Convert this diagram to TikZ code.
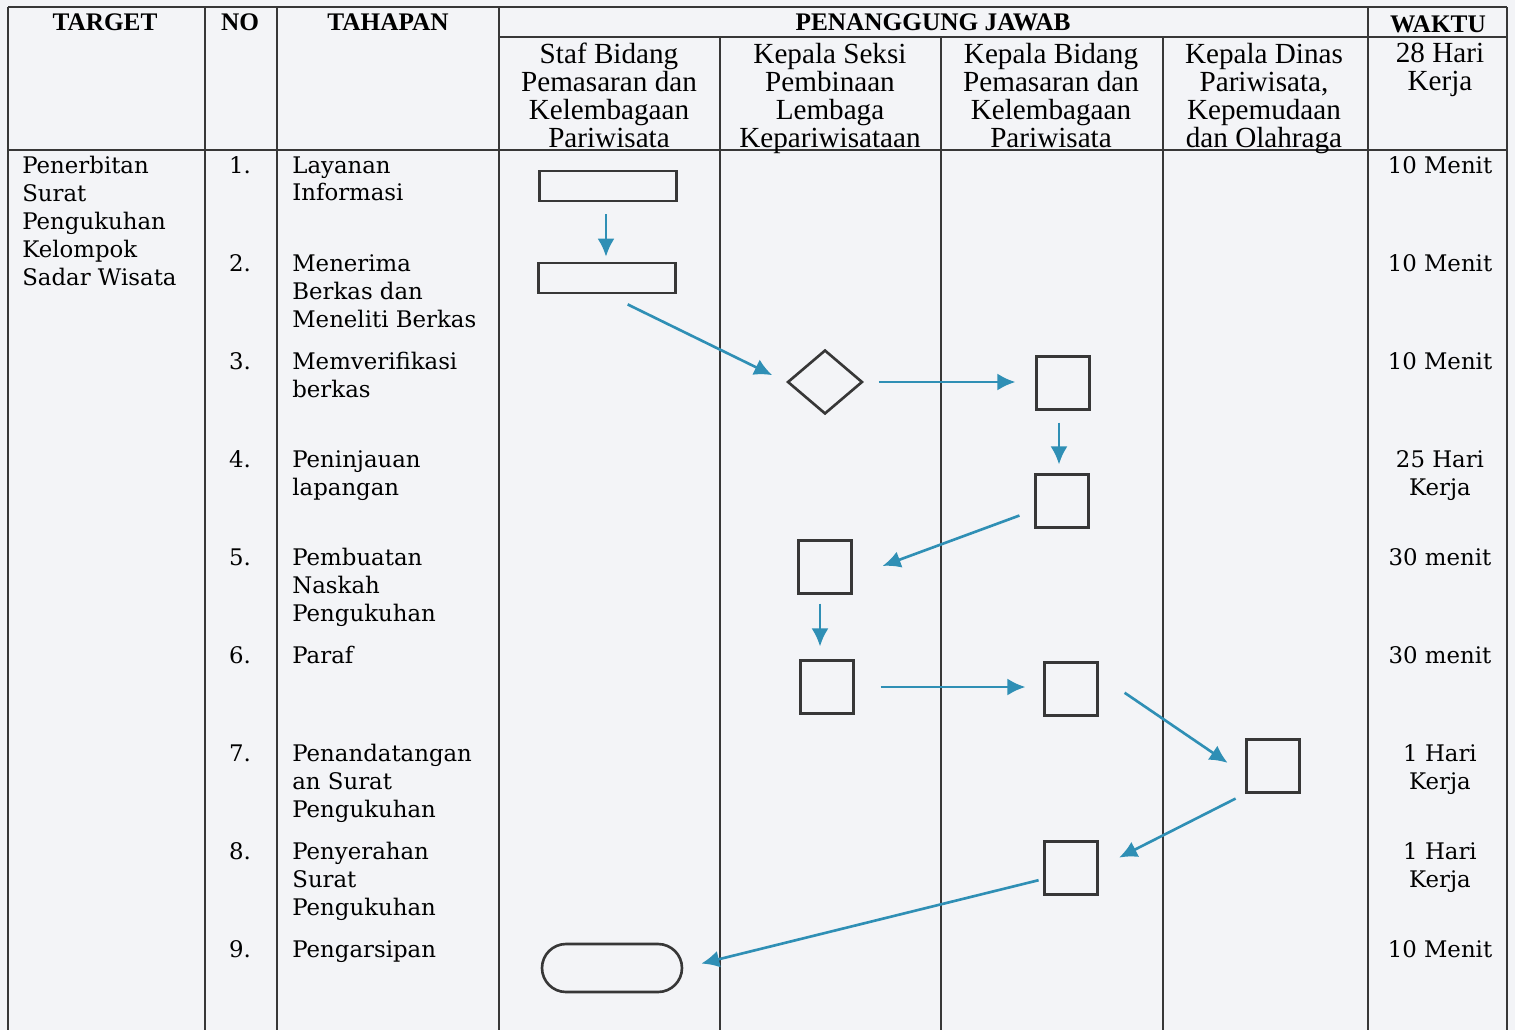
\documentclass[tikz,border=0pt]{standalone}
\usepackage{fontspec}
\setmainfont{DejaVu Serif}
\newfontfamily\headfont{Liberation Serif}
\usetikzlibrary{shapes.geometric, arrows.meta}

\definecolor{paper}{RGB}{243,244,247}
\definecolor{rule}{RGB}{55,55,55}
\definecolor{flowblue}{RGB}{47,143,181}

\begin{document}
\begin{tikzpicture}[x=0.02cm, y=-0.02cm,
    grid/.style={draw=rule, line width=0.9pt},
    box/.style={draw=rule, line width=1.5pt, rectangle, inner sep=0pt},
    proc/.style={box, minimum width=2.74cm, minimum height=0.6cm},
    sq/.style={box, minimum size=1.05cm},
    dec/.style={draw=rule, line width=1.5pt, diamond, inner sep=0pt, minimum width=1.5cm, minimum height=1.28cm},
    term/.style={box, rounded corners=0.48cm, minimum width=2.8cm, minimum height=0.96cm},
    flow/.style={-{Latex[length=3.6mm,width=3.4mm]}, draw=flowblue, line width=1.5pt},
    head/.style={font=\headfont\bfseries\fontsize{14.4}{16}\selectfont, inner sep=0pt},
    sub/.style={font=\headfont\fontsize{16.6}{15.9}\selectfont, align=center, anchor=north, inner sep=0pt},
    txt/.style={font=\fontsize{13}{15.9}\selectfont, align=left, anchor=north west, inner sep=0pt},
    num/.style={font=\fontsize{13}{15.9}\selectfont, anchor=north, inner sep=0pt},
    dur/.style={font=\fontsize{13}{15.9}\selectfont, align=center, anchor=north, inner sep=0pt}]
    %--------------------%
    % Parameters
    %--------------------%
    \def\rowsep{98}
    \def\rowtop{156}
    \def\xno{240}
    \def\xstep{292}
    \def\xtime{1440}

    % paper
    \fill[paper] (0,0) rectangle (1515,1030);

    %--------------------%
    % Table Rules
    %--------------------%
    \draw[grid] (8,7) -- (1507,7);
    \draw[grid] (499,37) -- (1507,37);
    \draw[grid] (8,150) -- (1507,150);
    \draw[grid] (8,7) -- (8,1030);
    \draw[grid] (205,7) -- (205,1030);
    \draw[grid] (277,7) -- (277,1030);
    \draw[grid] (499,7) -- (499,1030);
    \draw[grid] (720,37) -- (720,1030);
    \draw[grid] (941,37) -- (941,1030);
    \draw[grid] (1163,37) -- (1163,1030);
    \draw[grid] (1368,7) -- (1368,1030);
    \draw[grid] (1507,7) -- (1507,1030);

    %--------------------%
    % Header
    %--------------------%
    \node[head] (hTarget) at (105,22) {TARGET};
    \node[head] (hNo) at (240,22) {NO};
    \node[head] (hTahap) at (388,22) {TAHAPAN};
    \node[head] (hPj) at (933,22) {PENANGGUNG JAWAB};
    \node[head] (hWaktu) at (1438,24) {WAKTU};

    \node[sub] (hStaf) at (609,43) {Staf Bidang\\Pemasaran dan\\Kelembagaan\\Pariwisata};
    \node[sub] (hKasi) at (830,43) {Kepala Seksi\\Pembinaan\\Lembaga\\Kepariwisataan};
    \node[sub] (hKabid) at (1051,43) {Kepala Bidang\\Pemasaran dan\\Kelembagaan\\Pariwisata};
    \node[sub] (hKadis) at (1264,43) {Kepala Dinas\\Pariwisata,\\Kepemudaan\\dan Olahraga};
    \node[sub] (hTotal) at (\xtime,43) {28 Hari\\Kerja};

    %--------------------%
    % Target
    %--------------------%
    \node[txt] (target) at (22,\rowtop) {Penerbitan\\Surat\\Pengukuhan\\Kelompok\\Sadar Wisata};

    %--------------------%
    % Steps
    %--------------------%
    \node[num] (no1) at (\xno,{\rowtop+0*\rowsep}) {1.};
    \node[num] (no2) at (\xno,{\rowtop+1*\rowsep}) {2.};
    \node[num] (no3) at (\xno,{\rowtop+2*\rowsep}) {3.};
    \node[num] (no4) at (\xno,{\rowtop+3*\rowsep}) {4.};
    \node[num] (no5) at (\xno,{\rowtop+4*\rowsep}) {5.};
    \node[num] (no6) at (\xno,{\rowtop+5*\rowsep}) {6.};
    \node[num] (no7) at (\xno,{\rowtop+6*\rowsep}) {7.};
    \node[num] (no8) at (\xno,{\rowtop+7*\rowsep}) {8.};
    \node[num] (no9) at (\xno,{\rowtop+8*\rowsep}) {9.};

    \node[txt] (step1) at (\xstep,{\rowtop+0*\rowsep}) {Layanan\\Informasi};
    \node[txt] (step2) at (\xstep,{\rowtop+1*\rowsep}) {Menerima\\Berkas dan\\Meneliti Berkas};
    \node[txt] (step3) at (\xstep,{\rowtop+2*\rowsep}) {Memverifikasi\\berkas};
    \node[txt] (step4) at (\xstep,{\rowtop+3*\rowsep}) {Peninjauan\\lapangan};
    \node[txt] (step5) at (\xstep,{\rowtop+4*\rowsep}) {Pembuatan\\Naskah\\Pengukuhan};
    \node[txt] (step6) at (\xstep,{\rowtop+5*\rowsep}) {Paraf};
    \node[txt] (step7) at (\xstep,{\rowtop+6*\rowsep}) {Penandatangan\\an Surat\\Pengukuhan};
    \node[txt] (step8) at (\xstep,{\rowtop+7*\rowsep}) {Penyerahan\\Surat\\Pengukuhan};
    \node[txt] (step9) at (\xstep,{\rowtop+8*\rowsep}) {Pengarsipan};

    %--------------------%
    % Time
    %--------------------%
    \node[dur] (time1) at (\xtime,{\rowtop+0*\rowsep}) {10 Menit};
    \node[dur] (time2) at (\xtime,{\rowtop+1*\rowsep}) {10 Menit};
    \node[dur] (time3) at (\xtime,{\rowtop+2*\rowsep}) {10 Menit};
    \node[dur] (time4) at (\xtime,{\rowtop+3*\rowsep}) {25 Hari\\Kerja};
    \node[dur] (time5) at (\xtime,{\rowtop+4*\rowsep}) {30 menit};
    \node[dur] (time6) at (\xtime,{\rowtop+5*\rowsep}) {30 menit};
    \node[dur] (time7) at (\xtime,{\rowtop+6*\rowsep}) {1 Hari\\Kerja};
    \node[dur] (time8) at (\xtime,{\rowtop+7*\rowsep}) {1 Hari\\Kerja};
    \node[dur] (time9) at (\xtime,{\rowtop+8*\rowsep}) {10 Menit};

    %--------------------%
    % Flow Symbols
    %--------------------%
    \node[proc] (layanan) at (608,186) {};
    \node[proc] (terima) at (607,278) {};
    \node[dec] (verif) at (825,382) {};
    \node[sq] (verifkb) at (1063,383) {};
    \node[sq] (tinjau) at (1062,501) {};
    \node[sq] (naskah) at (825,567) {};
    \node[sq] (parafks) at (827,687) {};
    \node[sq] (parafkb) at (1071,689) {};
    \node[sq] (ttd) at (1273,766) {};
    \node[sq] (serah) at (1071,868) {};
    \node[term] (arsip) at (612,968) {};

    %--------------------%
    % Connections
    %--------------------%
    \draw[flow, shorten <=0.24cm, shorten >=0.1cm] ([xshift=-0.04cm]layanan.south) -- ([xshift=-0.04cm]layanan.south |- terima.north);
    \draw[flow, shorten <=0.46cm, shorten >=0.31cm] (terima.south) -- (verif.west);
    \draw[flow, shorten <=0.3cm, shorten >=0.4cm] (verif.east) -- (verif.east -| verifkb.west);
    \draw[flow, shorten <=0.24cm, shorten >=0.18cm] ([xshift=-0.08cm]verifkb.south) -- ([xshift=-0.08cm]verifkb.south |- tinjau.north);
    \draw[flow, shorten <=0.32cm, shorten >=0.64cm] ([yshift=-0.18cm]tinjau.west) -- ([yshift=-0.2cm]naskah.east);
    \draw[flow, shorten <=0.18cm, shorten >=0.26cm] ([xshift=-0.1cm]naskah.south) -- ([xshift=-0.1cm]naskah.south |- parafks.north);
    \draw[flow, shorten <=0.52cm, shorten >=0.36cm] (parafks.east) -- (parafks.east -| parafkb.west);
    \draw[flow, shorten <=0.63cm, shorten >=0.43cm] ([yshift=0.28cm]parafkb.east) -- ([yshift=-0.18cm]ttd.west);
    \draw[flow, shorten <=0.22cm, shorten >=0.46cm] (ttd.south west) -- (serah.east);
    \draw[flow, shorten <=0.1cm, shorten >=0.37cm] ([yshift=-0.22cm]serah.west) -- (arsip.east);

\end{tikzpicture}
\end{document}
